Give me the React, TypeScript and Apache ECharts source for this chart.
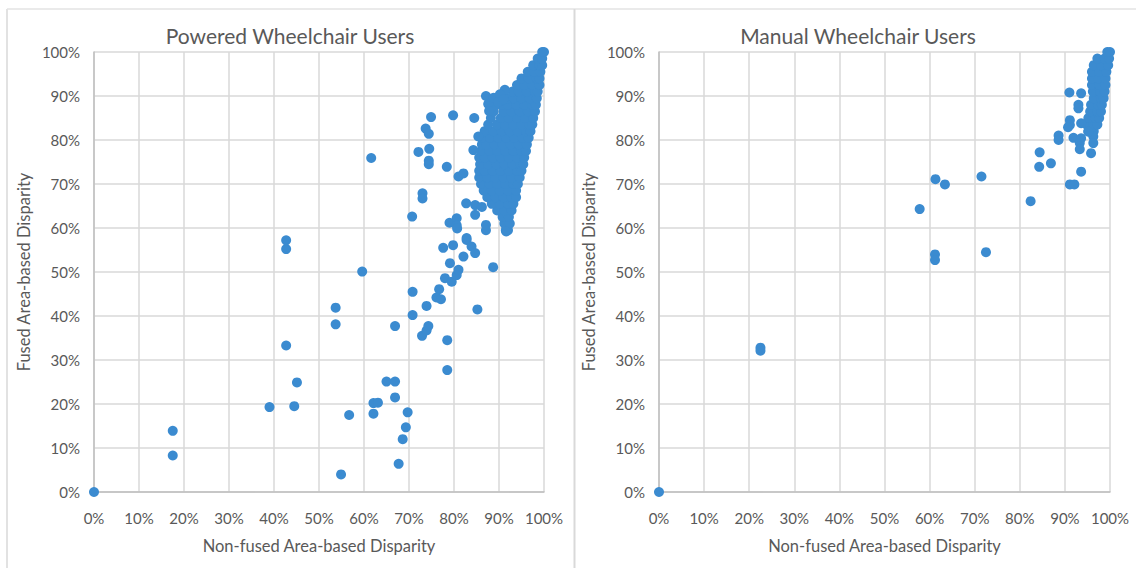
import React, { useEffect, useRef } from "react";
import * as echarts from "echarts";

const ticks = [0, 10, 20, 30, 40, 50, 60, 70, 80, 90, 100];
const titles = ["Powered Wheelchair Users", "Manual Wheelchair Users"];
const xName = "Non-fused Area-based Disparity";
const yName = "Fused Area-based Disparity";

// Powered wheelchair users: scattered points [non-fused %, fused %]
const poweredSparse: number[][] = [
  [0, 0], [17.5, 13.9], [17.5, 8.3], [39.0, 19.3], [44.5, 19.5], [45.1, 24.9],
  [42.7, 33.3], [42.7, 55.2], [42.7, 57.2], [53.7, 41.9], [53.7, 38.1], [54.9, 4.0],
  [56.7, 17.5], [59.6, 50.1], [61.6, 75.9], [62.1, 20.2], [63.1, 20.3], [62.1, 17.8],
  [65.0, 25.1], [66.9, 25.1], [66.9, 21.5], [66.9, 37.7], [67.7, 6.4], [68.6, 12.0],
  [69.3, 14.7], [69.7, 18.1], [70.7, 62.6], [70.8, 45.5], [70.8, 40.2], [72.1, 77.3],
  [72.9, 35.5], [73.0, 67.9], [73.0, 66.7], [73.7, 82.6], [73.9, 36.7], [73.9, 42.3],
  [74.3, 37.7], [74.4, 81.4], [74.5, 78.0], [74.4, 75.3], [74.4, 74.5], [74.9, 85.2],
  [76.1, 44.2], [76.7, 46.1], [77.1, 43.8], [77.6, 55.5], [78.0, 48.6], [78.4, 73.9],
  [78.5, 34.5], [78.5, 27.7], [79.0, 61.2], [79.1, 52.0], [79.5, 47.8], [79.8, 56.1],
  [79.8, 85.6], [80.6, 62.2], [80.6, 60.6], [80.6, 49.3], [80.7, 59.9], [81.0, 50.5],
  [81.0, 71.7], [82.1, 72.4], [82.1, 53.5], [82.7, 65.6], [82.8, 57.3], [82.8, 57.7],
  [83.9, 55.8], [84.3, 77.7], [84.5, 85.0], [84.7, 54.3], [84.7, 65.2], [84.7, 63.0],
  [85.2, 41.5], [85.4, 80.8], [86.2, 64.8], [87.1, 90.0], [87.1, 60.7], [87.1, 59.5],
  [88.7, 51.1], [91.3, 91.4], [91.6, 59.2], [88.5, 88.5], [89.0, 87.6],
  [87.6, 88.2], [88.8, 89.6], [90.2, 90.4], [89.8, 88.6], [91.0, 89.2], [87.8, 86.6],
];

// Powered wheelchair users: dense band, listed row by row [fused %, non-fused % values]
const poweredDenseRows: [number, number[]][] = [
  [59.5, [91.5, 92.0]],
  [61.0, [91.2, 92.4]],
  [62.5, [90.8, 92.2]],
  [64.0, [89.6, 91.2, 92.8]],
  [65.5, [88.4, 90.2, 92.0, 93.2]],
  [67.0, [87.4, 89.2, 91.0, 92.8, 93.8]],
  [68.5, [86.6, 88.4, 90.2, 92.0, 93.8]],
  [70.0, [86.0, 87.8, 89.6, 91.4, 93.2, 94.2]],
  [71.5, [85.6, 87.4, 89.2, 91.0, 92.8, 94.6]],
  [73.0, [85.6, 86.8, 88.6, 90.4, 92.2, 94.0, 95.0]],
  [74.5, [85.8, 87.6, 89.4, 91.2, 93.0, 94.8, 95.4]],
  [76.0, [85.6, 86.8, 88.6, 90.4, 92.2, 94.0, 95.6]],
  [77.5, [86.0, 87.8, 89.6, 91.4, 93.2, 95.0, 96.0]],
  [79.0, [86.2, 87.2, 89.0, 90.8, 92.6, 94.4, 96.2]],
  [80.5, [86.2, 88.0, 89.8, 91.6, 93.4, 95.2, 96.6]],
  [82.0, [86.8, 88.8, 90.6, 92.4, 94.2, 96.0, 97.0]],
  [83.5, [87.6, 89.6, 91.4, 93.2, 95.0, 96.8, 97.4]],
  [85.0, [88.2, 90.4, 92.2, 94.0, 95.8, 97.6]],
  [86.5, [88.8, 91.0, 92.8, 94.6, 96.4, 98.0]],
  [88.0, [90.6, 92.0, 93.8, 95.6, 97.4, 98.2]],
  [89.5, [92.0, 93.2, 95.0, 96.8, 98.4]],
  [91.0, [93.0, 94.4, 96.2, 98.0, 98.6]],
  [92.5, [94.0, 95.6, 97.4, 99.0]],
  [94.0, [95.0, 96.6, 98.4, 99.0]],
  [95.5, [96.4, 97.8, 99.2]],
  [97.0, [97.6, 99.0, 99.6]],
  [98.5, [98.6, 99.6]],
  [100.0, [99.6, 100.0]],
];

// Manual wheelchair users: scattered points
const manualSparse: number[][] = [
  [0, 0], [22.5, 32.8], [22.5, 32.1], [57.8, 64.3], [61.3, 71.1], [61.2, 54.0],
  [61.2, 52.7], [63.4, 69.9], [71.5, 71.7], [72.5, 54.5], [82.4, 66.1], [84.4, 77.2],
  [84.3, 73.9], [86.9, 74.7], [88.6, 81.0], [88.6, 80.0], [91.0, 90.8], [93.6, 90.6],
  [93.0, 88.0], [93.0, 87.2], [91.1, 84.5], [91.1, 83.4], [90.7, 82.9], [91.9, 80.5],
  [93.6, 83.8], [93.6, 80.4], [93.3, 79.3], [93.3, 77.9], [96.3, 80.8], [96.3, 79.3],
  [95.8, 77.0], [93.6, 72.8], [91.1, 69.9], [92.1, 69.9], [95.2, 81.9],
];

// Manual wheelchair users: dense band rows [fused %, non-fused % values]
const manualDenseRows: [number, number[]][] = [
  [82.0, [95.2, 96.4]],
  [83.5, [94.8, 96.4, 97.2]],
  [85.0, [95.2, 96.8, 97.6]],
  [86.5, [95.6, 97.2, 98.0]],
  [88.0, [95.8, 97.4, 98.2]],
  [89.5, [96.4, 98.0, 98.6]],
  [91.0, [96.2, 97.8, 98.8]],
  [92.5, [96.0, 97.6, 99.0]],
  [94.0, [96.0, 97.4, 99.0]],
  [95.5, [96.0, 97.6, 99.2]],
  [97.0, [96.4, 98.0, 99.6]],
  [98.5, [97.2, 98.8, 99.8]],
  [100.0, [99.4, 100.0]],
];

const TEXT = "#595959";
const BLUE = "#3B8BD0";
const FONT = "Lato, 'Open Sans', sans-serif";

function rowsToPoints(rows: [number, number[]][]): number[][] {
  const out: number[][] = [];
  rows.forEach(([y, xs]) => xs.forEach((x) => out.push([x, y])));
  return out;
}

export default function App() {
  const ref = useRef<HTMLDivElement>(null);
  useEffect(() => {
    if (!ref.current) return;
    const chart = echarts.init(ref.current, undefined, { renderer: "svg" });
    const grids = [
      { left: 94, right: 592, top: 52, bottom: 76 },
      { left: 659, right: 26, top: 52, bottom: 76 },
    ];
    const axisCommon = {
      type: "value",
      min: ticks[0],
      max: ticks[ticks.length - 1],
      interval: ticks[1] - ticks[0],
      axisLine: { show: true, lineStyle: { color: "#bfbfbf", width: 1.5 } },
      axisTick: { show: false },
      splitLine: { show: true, lineStyle: { color: "#d9d9d9", width: 1.5 } },
      axisLabel: {
        formatter: (v: number) => `${v}%`,
        color: TEXT,
        fontSize: 15,
        fontFamily: FONT,
      },
      nameLocation: "middle",
      nameTextStyle: { color: TEXT, fontSize: 16.5, fontFamily: FONT },
    };
    const xAxes = [0, 1].map((i) => ({
      ...axisCommon,
      gridIndex: i,
      name: xName,
      nameGap: 45,
      axisLabel: { ...axisCommon.axisLabel, margin: 18 },
    }));
    const yAxes = [0, 1].map((i) => ({
      ...axisCommon,
      gridIndex: i,
      name: yName,
      nameGap: 62,
      axisLabel: { ...axisCommon.axisLabel, margin: 14 },
    }));
    const titleStyle = { color: TEXT, fontSize: 21, fontWeight: "normal", fontFamily: FONT };
    chart.setOption({
      animation: false,
      backgroundColor: "#ffffff",
      title: [
        { text: titles[0], left: 285, top: 20, textAlign: "center", textStyle: titleStyle },
        { text: titles[1], left: 853, top: 20, textAlign: "center", textStyle: titleStyle },
      ],
      grid: grids,
      xAxis: xAxes,
      yAxis: yAxes,
      series: [
        {
          type: "scatter",
          xAxisIndex: 0,
          yAxisIndex: 0,
          symbolSize: 10,
          itemStyle: { color: BLUE, opacity: 1 },
          data: [...rowsToPoints(poweredDenseRows), ...poweredSparse],
        },
        {
          type: "scatter",
          xAxisIndex: 1,
          yAxisIndex: 1,
          symbolSize: 10,
          itemStyle: { color: BLUE, opacity: 1 },
          data: [...rowsToPoints(manualDenseRows), ...manualSparse],
        },
      ],
      graphic: [
        { type: "line", shape: { x1: 7, y1: 9, x2: 7, y2: 568 }, style: { stroke: "#d9d9d9", lineWidth: 1.5 } },
        { type: "line", shape: { x1: 7, y1: 9, x2: 1136, y2: 9 }, style: { stroke: "#e3e3e3", lineWidth: 1.5 } },
        { type: "line", shape: { x1: 574.5, y1: 9, x2: 574.5, y2: 568 }, style: { stroke: "#d9d9d9", lineWidth: 2 } },
      ],
    });
    return () => chart.dispose();
  }, []);
  return (
    <div
      ref={ref}
      style={{ position: "fixed", left: 0, top: 0, width: 1136, height: 568, background: "#fff" }}
    />
  );
}
